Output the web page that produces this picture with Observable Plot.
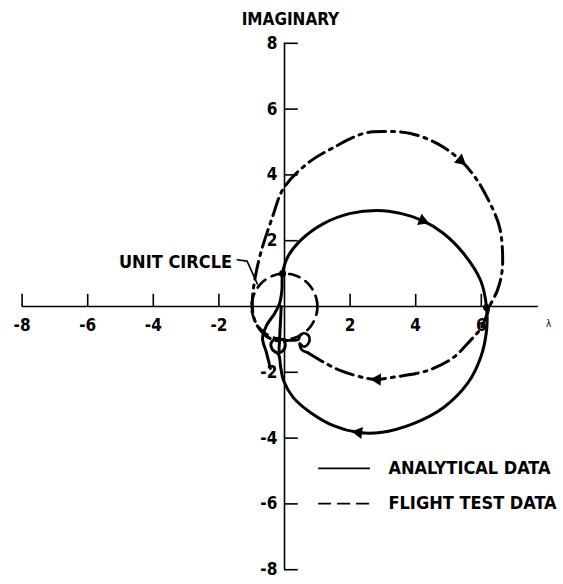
<!DOCTYPE html>
<html>
<head>
<meta charset="utf-8">
<script src="https://cdn.jsdelivr.net/npm/d3@7"></script>
<script src="https://cdn.jsdelivr.net/npm/@observablehq/plot@0.6"></script>
<style>
  body { margin: 0; background: #fff; }
</style>
</head>
<body>
<div id="chart"></div>
<script>
const xTicks = [-8, -6, -4, -2, 2, 4, 6];
const yTicks = [8, 6, 4, 2, -2, -4, -6, -8];

// Analytical data (solid curve)
const analyticalX = [-0.43, -0.55, -0.67, -0.55, -0.30, -0.15, -0.08, -0.06, 0.09, 0.49, 1.19, 2.01, 2.84, 3.54, 4.21, 4.85, 5.46, 5.98, 6.16, 6.16, 5.98, 5.58, 4.85, 3.93, 2.93, 2.26, 1.49, 0.79, 0.27, -0.03, -0.12, -0.18, -0.37, -0.40, -0.21, 0.00, 0.00, -0.15, -0.15, -0.12, -0.10];
const analyticalY = [-1.88, -1.40, -0.97, -0.58, -0.21, 0.09, 0.49, 1.00, 1.49, 2.01, 2.52, 2.83, 2.92, 2.83, 2.61, 2.22, 1.61, 0.79, -0.03, -0.73, -1.55, -2.34, -3.07, -3.56, -3.83, -3.83, -3.62, -3.22, -2.77, -2.25, -1.82, -1.46, -1.31, -1.09, -0.97, -1.06, -1.28, -1.40, -1.03, -0.43, 0.00];

// Flight test data (dash-dot curve); first 11 points form the small loop
const flightX = [0.09, 0.18, 0.43, 0.49, 0.64, 0.76, 0.73, 0.58, 0.46, 0.52, 0.70, 1.10, 1.71, 2.41, 2.83, 3.23, 4.05, 4.54, 5.15, 5.67, 5.98, 6.18, 6.26, 6.49, 6.63, 6.64, 6.56, 6.37, 5.88, 5.37, 4.66, 3.84, 3.02, 2.41, 1.49, 0.70, -0.03, -0.37, -0.73, -0.91, -0.98, -0.95, -0.85, -0.58, -0.27, 0.09];
const flightY = [-1.03, -1.03, -1.00, -0.85, -0.82, -0.94, -1.12, -1.22, -1.12, -1.31, -1.40, -1.64, -1.95, -2.16, -2.22, -2.16, -2.03, -1.88, -1.55, -1.03, -0.67, -0.22, 0.02, 0.49, 1.05, 1.80, 2.40, 2.92, 3.83, 4.44, 4.95, 5.26, 5.32, 5.26, 4.83, 4.35, 3.59, 2.71, 1.61, 0.79, 0.18, -0.27, -0.55, -0.88, -1.03, -1.03];

// Direction arrows on the curves
const analyticalArrows = [{x: 4.21, y: 2.61, angle: 112}, {x: 2.26, y: -3.83, angle: 278}];
const flightArrows = [{x: 5.37, y: 4.44, angle: 130}, {x: 2.83, y: -2.22, angle: 272}];

const legendLabels = ["ANALYTICAL DATA", "FLIGHT TEST DATA"];

const analytical = analyticalX.map((x, i) => [x, analyticalY[i]]);
const flight = flightX.map((x, i) => [x, flightY[i]]);
const unitCircle = d3.range(0, 361, 4).map(a => [Math.cos(a * Math.PI / 180), Math.sin(a * Math.PI / 180)]);

const font = "DejaVu Sans Condensed, DejaVu Sans, sans-serif";

const chart = Plot.plot({
  width: 563,
  height: 584,
  margin: 0,
  x: {domain: [-8, 8], range: [21.6, 546.4], axis: null},
  y: {domain: [-8, 8], range: [569.2, 42.8], axis: null},
  style: {background: "white", fontFamily: font},
  marks: [
    // axes
    Plot.ruleY([0], {x1: -8, x2: 7.74, stroke: "black", strokeWidth: 1.6}),
    Plot.ruleX([0], {y1: -8, y2: 8, stroke: "black", strokeWidth: 1.6}),
    Plot.ruleX(xTicks, {y1: 0, y2: 0.37, stroke: "black", strokeWidth: 1.6}),
    Plot.ruleY(yTicks, {x1: 0, x2: 0.42, stroke: "black", strokeWidth: 1.6}),
    Plot.text(xTicks, {x: d => d, y: -0.58, text: d => String(d), fontSize: 17, fontWeight: "bold", fill: "black", textAnchor: "middle", lineAnchor: "middle"}),
    Plot.text(yTicks, {x: -0.22, y: d => d, text: d => String(d), fontSize: 17, fontWeight: "bold", fill: "black", textAnchor: "end", lineAnchor: "middle"}),
    Plot.text(["IMAGINARY"], {x: 0.18, y: 8.72, text: d => d, fontSize: 17, fontWeight: "bold", fill: "black", textAnchor: "middle", lineAnchor: "middle"}),
    Plot.text(["λ"], {x: 8.05, y: -0.52, text: d => d, fontSize: 10, fill: "black", textAnchor: "middle", lineAnchor: "middle"}),
    // unit circle
    Plot.line(unitCircle, {stroke: "black", strokeWidth: 2.6, strokeDasharray: "11,7"}),
    Plot.ruleX([-1, 1], {y1: -0.22, y2: 0.15, stroke: "black", strokeWidth: 2}),
    Plot.line([[-1.44, 1.42], [-1.14, 1.38], [-0.83, 0.69]], {stroke: "black", strokeWidth: 1.6}),
    Plot.text(["UNIT CIRCLE"], {x: -1.6, y: 1.34, text: d => d, fontSize: 18, fontWeight: "bold", fill: "black", textAnchor: "end", lineAnchor: "middle"}),
    // curves
    Plot.line(flight.slice(10), {stroke: "black", strokeWidth: 3, strokeDasharray: "18,6,3,6", curve: "catmull-rom"}),
    Plot.line(flight.slice(0, 11), {stroke: "black", strokeWidth: 2.6, curve: "catmull-rom"}),
    Plot.line(analytical, {stroke: "black", strokeWidth: 3, curve: "catmull-rom"}),
    Plot.dot(analyticalArrows, {x: "x", y: "y", rotate: "angle", symbol: "triangle", r: 4.5, fill: "black", stroke: "none"}),
    Plot.dot(flightArrows, {x: "x", y: "y", rotate: "angle", symbol: "triangle", r: 4.5, fill: "black", stroke: "none"}),
    Plot.dot([[-0.06, 1.0], [6.16, -0.03]], {r: 3.5, fill: "black", stroke: "none"}),
    // legend
    Plot.ruleY([-4.92], {x1: 1.04, x2: 2.62, stroke: "black", strokeWidth: 1.8}),
    Plot.ruleY([-5.99], {x1: 1.04, x2: 2.62, stroke: "black", strokeWidth: 1.8, strokeDasharray: "13,6"}),
    Plot.text(legendLabels, {x: 3.17, y: (d, i) => i === 0 ? -4.92 : -5.99, text: d => d, fontSize: 18, fontWeight: "bold", fill: "black", textAnchor: "start", lineAnchor: "middle"})
  ]
});
document.getElementById("chart").appendChild(chart);
</script>
</body>
</html>
